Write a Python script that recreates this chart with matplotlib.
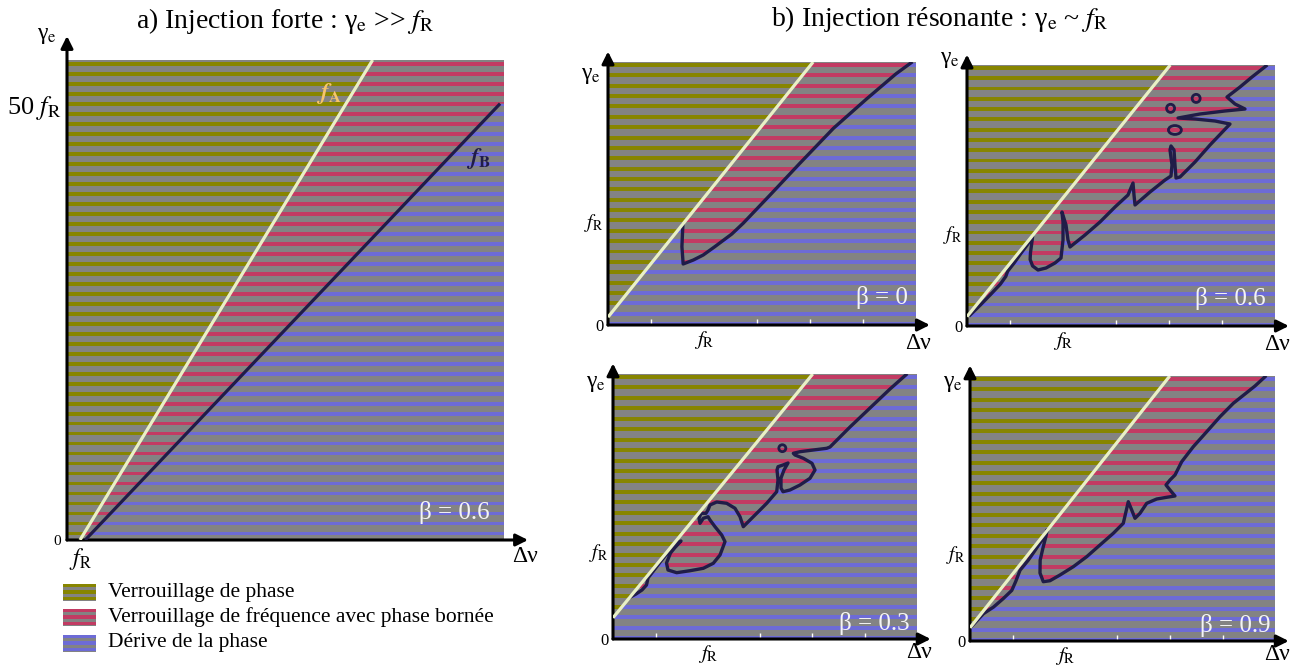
import matplotlib
matplotlib.use('Agg')
import matplotlib.pyplot as plt
from matplotlib.patches import Polygon, Rectangle, Ellipse
from matplotlib.collections import PatchCollection

plt.rcParams['font.family'] = ['Liberation Serif', 'DejaVu Serif']
plt.rcParams['mathtext.fontset'] = 'stix'

W, H = 1298, 668

# ---------------- data ----------------
title_a = 'a) Injection forte : γ$_\\mathrm{e}$ >> $f_\\mathrm{R}$'
title_b = 'b) Injection résonante : γ$_\\mathrm{e}$ ~ $f_\\mathrm{R}$'
legend_labels = ['Verrouillage de phase',
                 'Verrouillage de fréquence avec phase bornée',
                 'Dérive de la phase']

# panel a (units of f_R)
a_xmax, a_ymax = 33.6, 55.0
a_fA_x = [1.0, 23.5]
a_fA_y = [0.0, 55.0]
a_fB_x = [1.4, 33.3]
a_fB_y = [0.0, 50.0]
a_yticks = [0, 50]
a_yticklabels = ['0', '50 $f_\\mathrm{R}$']
a_xticks = [1]
a_white_ticks = [3.55, 9.28, 15.0, 20.7, 26.5, 32.2, 37.9, 43.6, 49.4]
a_beta = 'β = 0.6'

# panel b (percent of axis range)
b_betas = ['β = 0', 'β = 0.6', 'β = 0.3', 'β = 0.9']
b_fA_y0 = [3.0, 3.6, 8.0, 5.0]
b_fA_xtop = [66.6, 66.0, 65.7, 65.5]
b_fR_x = 31.2
b_fR_y = [40.0, 36.0, 33.6, 33.6]
b_white_ticks = [14.0, 31.2, 48.3, 65.6, 82.9]

# beta = 0
b0_x = [24.3, 24.0, 24.4, 27.7, 30.9, 34.7, 40.2, 43.9, 52.6, 62.3, 73.2, 84.0, 93.5, 98.4]
b0_y = [38.0, 29.8, 23.2, 24.7, 26.6, 29.8, 34.6, 38.7, 49.4, 61.5, 74.8, 86.0, 95.5, 99.7]

# beta = 0.6
b1_x = [1.0, 4.3, 7.6, 10.8, 12.6, 13.2, 15.2, 17.6, 19.5, 21.3,
        21.0, 20.6, 20.5, 21.3, 23.05, 25.65, 28.57, 30.52,
        31.17, 31.17, 30.84, 32.14, 32.79, 33.44,
        38.31, 43.18, 48.05, 52.27, 53.90, 54.22, 54.55,
        59.42, 64.29, 66.23, 66.56, 65.91, 66.23, 67.21, 67.53, 67.86, 69.16,
        74.03, 78.90, 85.39,
        80.52, 74.03, 68.51, 75.65, 83.77, 90.26, 87.01, 84.42,
        88.64, 92.53, 97.08]
b1_y = [4.2, 8.0, 12.0, 16.0, 19.0, 21.0, 24.0, 28.0, 31.0, 34.3,
        31.5, 28.0, 25.5, 23.0, 21.46, 22.22, 24.14, 26.05,
        32.95, 39.85, 43.68, 38.70, 32.95, 30.27,
        34.87, 39.85, 45.59, 50.19, 54.79, 50.19, 46.36,
        51.34, 55.94, 57.47, 61.69, 67.43, 68.97, 67.43, 61.69, 56.70, 57.09,
        62.84, 69.35, 77.39,
        78.54, 79.31, 79.69, 81.23, 82.38, 83.14, 85.06, 87.74,
        91.57, 95.40, 99.62]
b1_circ_x = [66.1, 74.4, 67.5]
b1_circ_y = [83.4, 87.2, 75.1]
b1_circ_w = [2.6, 2.6, 4.2]
b1_circ_h = [3.1, 3.1, 3.4]

# beta = 0.3
b2_x = [5.76, 7.57, 9.54, 11.02, 11.51, 15.79, 20.56, 22.37, 20.39, 18.91, 17.60, 18.09,
        20.95, 25.33, 29.70, 32.99, 35.20, 36.84, 35.76, 33.55, 31.91,
        31.25, 29.70, 28.62, 28.29, 28.95, 30.59, 31.25,
        31.91, 34.11, 37.40, 40.13, 41.78, 42.86,
        45.07, 47.27, 50.56, 53.85, 54.28, 53.95, 54.28, 55.92, 57.57,
        56.25, 55.26, 55.26, 55.92, 58.22, 61.51, 64.80, 66.45, 65.46,
        62.60, 59.87, 59.31, 61.51, 65.89, 70.30, 71.38,
        77.96, 84.54, 91.12, 96.38]
b2_y = [15.85, 16.98, 18.49, 20.38, 23.02, 29.43, 36.23, 36.98, 34.53, 32.45, 28.68, 26.04,
        25.02, 25.77, 26.68, 28.57, 31.70, 36.72, 39.25, 42.38, 44.91,
        46.15, 45.55, 43.66, 45.55, 47.43, 47.43, 48.68,
        50.57, 51.70, 51.21, 49.32, 46.15, 42.38,
        44.91, 47.43, 51.21, 55.58, 60.00, 63.77, 65.02, 65.66, 66.42,
        63.77, 60.75, 56.98, 55.58, 56.23, 58.11, 60.64, 63.77, 66.30,
        68.19, 69.43, 70.08, 70.68, 71.32, 71.96, 72.45,
        80.00, 87.17, 94.34, 99.7]
b2_circ_x = [55.7]
b2_circ_y = [72.0]
b2_circ_w = [2.3]
b2_circ_h = [2.6]

# beta = 0.9
b3_x = [0.5, 4.4, 7.7, 10.9, 13.7, 15.0, 16.4, 19.1, 21.5, 23.5, 25.3,
        24.9, 24.0, 23.0, 22.95, 24.03, 26.23, 29.51, 33.87, 38.26, 42.62, 46.98, 50.26,
        51.90, 53.02, 54.10, 55.74, 57.93, 61.21, 64.49, 67.21, 65.57, 64.26,
        65.57, 67.21, 69.41, 73.21, 77.61, 81.97, 86.33, 90.16, 93.44, 96.72]
b3_y = [5.5, 10.3, 12.8, 16.0, 19.1, 22.5, 26.7, 30.5, 34.5, 38.0, 42.0,
        39.5, 35.5, 30.5, 25.66, 22.38, 22.75, 24.91, 28.04, 31.81, 36.23, 40.64, 44.42,
        52.57, 49.43, 46.30, 48.19, 51.96, 53.58, 54.23, 54.72, 56.98, 58.87,
        60.75, 62.64, 67.66, 73.32, 78.98, 84.64, 89.70, 93.21, 96.23, 99.7]

b_curves_x = [b0_x, b1_x, b2_x, b3_x]
b_curves_y = [b0_y, b1_y, b2_y, b3_y]
b_circles = [None, (b1_circ_x, b1_circ_y, b1_circ_w, b1_circ_h),
             (b2_circ_x, b2_circ_y, b2_circ_w, b2_circ_h), None]

# ---------------- style ----------------
GRAY = '#838383'
OLIVE = '#878500'
RED = '#c23b63'
BLUE = '#6d6bd6'
FA_COL = '#e9f0c6'
FB_COL = '#201c48'
FA_LBL = '#f6c46e'

fig = plt.figure(figsize=(W / 100, H / 100), dpi=100)


def add_ax(l, r, t, b):
    return fig.add_axes([l / W, 1 - b / H, (r - l) / W, (b - t) / H])


def striped(ax, verts, color, centers, thick, xmax, z):
    poly = Polygon(verts, closed=True, facecolor=GRAY, edgecolor='none', zorder=z)
    ax.add_patch(poly)
    rects = [Rectangle((0, c - thick / 2), xmax, thick) for c in centers]
    pc = PatchCollection(rects, facecolor=color, edgecolor='none', zorder=z + 0.1)
    ax.add_collection(pc)
    pc.set_clip_path(poly)


def arrows(ax, ty, tx):
    kw = dict(arrowstyle='-|>', color='black', lw=2.2, shrinkA=0, shrinkB=0, mutation_scale=18)
    ax.annotate('', xy=(0, ty), xytext=(0, 0), xycoords='axes fraction',
                arrowprops=kw, annotation_clip=False)
    ax.annotate('', xy=(tx, 0), xytext=(0, 0), xycoords='axes fraction',
                arrowprops=kw, annotation_clip=False)


def clean(ax, xmax, ymax):
    ax.set_xlim(0, xmax)
    ax.set_ylim(0, ymax)
    for s in ax.spines.values():
        s.set_visible(False)


# ---------------- panel a ----------------
ax = add_ax(67, 504, 60, 540)
clean(ax, a_xmax, a_ymax)
period_a = 1.145
centers_a = [54.55 - k * period_a for k in range(48)]
thick_a = 0.42
striped(ax, [(0, 0), (a_xmax, 0), (a_xmax, a_ymax), (0, a_ymax)], BLUE, centers_a, thick_a, a_xmax, 1)
striped(ax, [(0, 0), (a_fA_x[0], 0), (a_fA_x[1], a_ymax), (0, a_ymax)], OLIVE, centers_a, thick_a, a_xmax, 2)
striped(ax, [(a_fA_x[0], 0), (a_fB_x[0], 0), (a_fB_x[1], a_fB_y[1]), (a_xmax, a_fB_y[1]),
             (a_xmax, a_ymax), (a_fA_x[1], a_ymax)], RED, centers_a, thick_a, a_xmax, 3)
ax.plot(a_fB_x, a_fB_y, color=FB_COL, lw=2.3, zorder=5, solid_capstyle='butt')
ax.plot(a_fA_x, a_fA_y, color=FA_COL, lw=2.3, zorder=6, solid_capstyle='butt')
ax.text(20.15, 51.2, '$\\mathbfit{f}_\\mathbf{A}$', color=FA_LBL, fontsize=17,
        ha='center', va='center', zorder=7)
ax.text(31.6, 43.7, '$\\mathbfit{f}_\\mathbf{B}$', color=FB_COL, fontsize=17,
        ha='center', va='center', zorder=7)
ax.text(0.968, 0.058, a_beta, transform=ax.transAxes, color='#f4f4f4', fontsize=18,
        ha='right', va='center', zorder=7)
ax.set_yticks(a_yticks)
ax.set_yticklabels(a_yticklabels)
ax.get_yticklabels()[0].set_fontsize(11)
ax.get_yticklabels()[1].set_fontsize(19)
ax.set_xticks(a_xticks)
ax.set_xticklabels(['$f_\\mathrm{R}$'], fontsize=17)
ax.tick_params(axis='both', which='major', length=0, pad=4)
ax.set_yticks(a_white_ticks, minor=True)
ax.tick_params(axis='y', which='minor', direction='in', color='white', length=5, width=1)
ax.text(1.048, -0.035, 'Δν', transform=ax.transAxes, fontsize=17, ha='center', va='center')
ax.text(-0.046, 1.05, 'γ$_\\mathrm{e}$', transform=ax.transAxes, fontsize=17, ha='center', va='center')
arrows(ax, 1.05, 1.055)

# ---------------- panel b ----------------
b_boxes = [(608, 916, 62, 325), (967, 1275, 65, 326), (613, 917, 374, 639), (970, 1275, 376, 641)]
b_gam_y = [0.95, 1.02, 0.965, 0.97]
b_beta_y = [10.3, 10.7, 6.0, 6.0]
b_beta_x = [97.4, 96.8, 97.7, 98.4]
b_dnu_y = [-0.07, -0.07, -0.05, -0.05]
period_b = 3.94
centers_b = [98.86 - k * period_b for k in range(26)]
thick_b = 1.5
for i, (l, r, t, b) in enumerate(b_boxes):
    ax = add_ax(l, r, t, b)
    clean(ax, 100, 100)
    y0, xt = b_fA_y0[i], b_fA_xtop[i]
    cx, cy = b_curves_x[i], b_curves_y[i]
    striped(ax, [(0, 0), (100, 0), (100, 100), (0, 100)], BLUE, centers_b, thick_b, 100, 1)
    striped(ax, [(0, y0), (xt, 100), (0, 100)], OLIVE, centers_b, thick_b, 100, 2)
    red_verts = list(zip(cx, cy)) + [(cx[-1], 100), (xt, 100)]
    striped(ax, red_verts, RED, centers_b, thick_b, 100, 3)
    circ = b_circles[i]
    if circ is not None:
        for ex, ey, ew, eh in zip(*circ):
            ax.add_patch(Ellipse((ex, ey), ew, eh, facecolor='none', edgecolor=FB_COL, lw=2.0, zorder=5))
    ax.plot(cx, cy, color=FB_COL, lw=2.4, zorder=5, solid_joinstyle='round')
    ax.plot([0, xt], [y0, 100], color=FA_COL, lw=2.3, zorder=6, solid_capstyle='butt')
    ax.text(b_beta_x[i], b_beta_y[i], b_betas[i], color='#f4f4f4', fontsize=18,
            ha='right', va='center', zorder=7)
    ax.set_xticks([b_fR_x])
    ax.set_xticklabels(['$f_\\mathrm{R}$'], fontsize=15)
    ax.set_yticks([0, b_fR_y[i]])
    ax.set_yticklabels(['0', '$f_\\mathrm{R}$'])
    ax.get_yticklabels()[0].set_fontsize(12)
    ax.get_yticklabels()[1].set_fontsize(14)
    ax.tick_params(axis='both', which='major', length=0, pad=3)
    ax.set_xticks(b_white_ticks, minor=True)
    ax.tick_params(axis='x', which='minor', direction='in', color='white', length=4, width=1)
    ax.text(1.005, b_dnu_y[i], 'Δν', transform=ax.transAxes, fontsize=17, ha='center', va='center')
    ax.text(-0.055, b_gam_y[i], 'γ$_\\mathrm{e}$', transform=ax.transAxes, fontsize=17,
            ha='center', va='center')
    arrows(ax, 1.04, 1.045)

# ---------------- titles ----------------
fig.text(285 / W, 1 - 21 / H, title_a, fontsize=20, ha='center', va='center')
fig.text(940 / W, 1 - 19 / H, title_b, fontsize=20, ha='center', va='center')

# ---------------- legend ----------------
lax = fig.add_axes([63 / W, 1 - 655 / H, 460 / W, 75 / H])
lax.set_xlim(0, 460)
lax.set_ylim(75, 0)
lax.axis('off')
leg_colors = [OLIVE, RED, BLUE]
leg_rows = [12, 37, 63]
for c, yc, lab in zip(leg_colors, leg_rows, legend_labels):
    lax.add_patch(Rectangle((0, yc - 8.5), 33, 17.5, facecolor=GRAY, edgecolor='none'))
    for off in (-6.5, 0, 6.5):
        lax.add_patch(Rectangle((0, yc + off - 1.6), 33, 3.2, facecolor=c, edgecolor='none'))
    lax.text(45, yc, lab, fontsize=15.5, ha='left', va='center')

fig.savefig('out.png', dpi=100)
